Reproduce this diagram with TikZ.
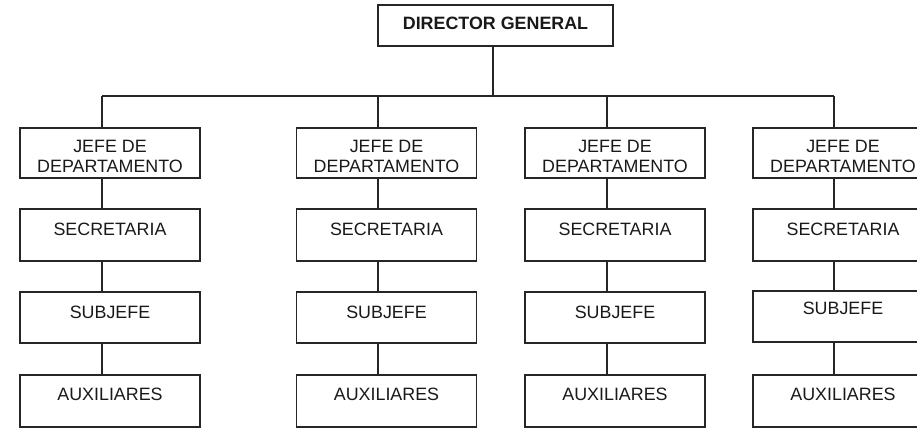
\documentclass[tikz,border=0pt]{standalone}
\usepackage{fontspec}
\setmainfont{Liberation Sans}
\begin{document}
\begin{tikzpicture}[x=0.75pt,y=-0.75pt,
  conn/.style={draw=black!85, line width=1.1pt},
  box/.style={draw=black!85, line width=1.1pt, rectangle, minimum width=135pt, inner sep=0pt},
  lbl/.style={inner sep=0pt, align=center, text=black!90, font=\fontsize{13.4pt}{14.6pt}\selectfont}]
\useasboundingbox (0,0) rectangle (917,430);
\clip (0,0) rectangle (917,430);
% director
\node[box, minimum width=176.25pt, minimum height=30.75pt] (dir) at (495.5,25.5) {};
\node[lbl, font=\fontsize{13.4pt}{14.6pt}\selectfont\bfseries] (tdir) at (495.5,23) {DIRECTOR GENERAL};
\coordinate (trunk) at (493,96);
\draw[conn] (dir.south -| trunk) -- (trunk);
\coordinate (hl) at (102,96);
\coordinate (hr) at (834,96);
\draw[conn] (hl) -- (hr);
\foreach \i/\cx/\lx/\sy/\sty in {1/110/102/317.5/312, 2/386.5/378/317.5/312, 3/615/607/317.5/312, 4/843/834/316.5/308}{
  \coordinate (c\i) at (\lx,96);
  \node[box, minimum height=37.5pt] (jefe\i) at (\cx,153) {};
  \node[lbl] (tjefe\i) at (\cx,156.5) {JEFE DE\\DEPARTAMENTO};
  \node[box, minimum height=39pt] (sec\i) at (\cx,235) {};
  \node[lbl] (tsec\i) at (\cx,229) {SECRETARIA};
  \node[box, minimum height=38.25pt] (sub\i) at (\cx,\sy) {};
  \node[lbl] (tsub\i) at (\cx,\sty) {SUBJEFE};
  \node[box, minimum height=39pt] (aux\i) at (\cx,401) {};
  \node[lbl] (taux\i) at (\cx,394) {AUXILIARES};
  \draw[conn] (c\i) -- (c\i |- jefe\i.north);
  \draw[conn] (jefe\i.south -| c\i) -- (sec\i.north -| c\i);
  \draw[conn] (sec\i.south -| c\i) -- (sub\i.north -| c\i);
  \draw[conn] (sub\i.south -| c\i) -- (aux\i.north -| c\i);
}
\end{tikzpicture}
\end{document}
